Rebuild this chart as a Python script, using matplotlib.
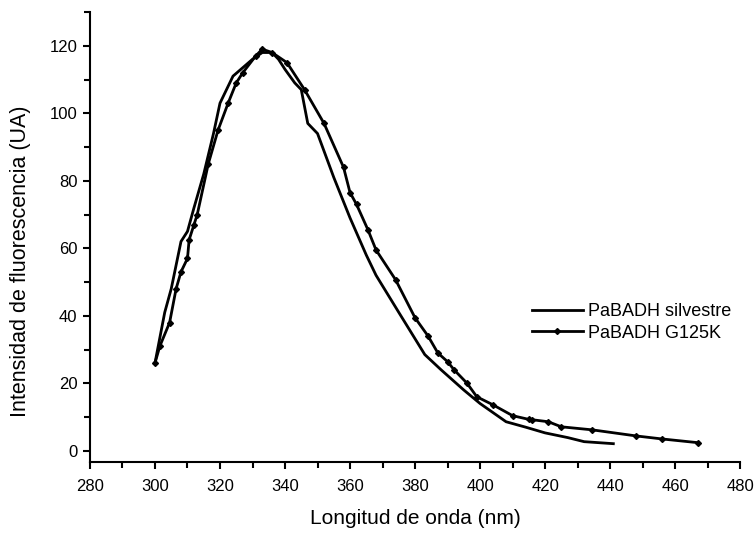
import matplotlib
matplotlib.use("Agg")
import matplotlib.pyplot as plt
from matplotlib.ticker import MultipleLocator

plt.rcParams['font.family'] = ['Liberation Sans', 'DejaVu Sans']

# PaBADH silvestre (línea continua)
x_silv = [300, 303, 305, 308, 310, 312, 315, 318, 320, 322, 324, 327, 330, 333,
          336, 338, 340, 343, 345, 347, 350, 355, 360, 365, 368, 375, 383, 388,
          395, 400, 408, 414, 420, 427, 432, 441]
y_silv = [26, 41, 48, 62, 65, 72, 82, 94, 103, 107, 111, 113.5, 116, 118,
          118, 116, 113, 109, 107, 97, 94, 81, 69, 58, 52, 41, 28.5, 24,
          18, 14, 8.6, 7, 5.3, 3.9, 2.7, 2.1]

# PaBADH G125K (línea con marcadores)
x_mut = [300, 301.5, 304.5, 306.5, 308, 310, 310.5, 312, 313, 316.4, 319.4, 322.5,
         325, 327, 331, 333, 336, 340.6, 346, 352, 358, 360, 362, 365.5, 368,
         374, 380, 384, 387, 390, 392, 396, 399, 404, 410, 415, 416, 421, 425,
         434.5, 448, 456, 467]
y_mut = [26, 31, 38, 48, 53, 57, 62.5, 67, 70, 85, 95, 103,
         109, 112, 117, 119, 118, 115, 107, 97, 84, 76.5, 73, 65.5, 59.5,
         50.7, 39.4, 34, 29, 26.4, 24, 20, 16, 13.6, 10.4, 9.3, 9.2, 8.6, 7.1,
         6.2, 4.4, 3.5, 2.4]

fig = plt.figure(figsize=(7.56, 5.34), dpi=100)
ax = fig.add_axes([0.119, 0.135, 0.860, 0.8425])

ax.plot(x_silv, y_silv, color='black', lw=2, label='PaBADH silvestre')
ax.plot(x_mut, y_mut, color='black', lw=2, marker='D', markersize=3,
        label='PaBADH G125K')

ax.set_xlim(280, 480)
ax.set_ylim(-3.3, 130)
ax.xaxis.set_major_locator(MultipleLocator(20))
ax.xaxis.set_minor_locator(MultipleLocator(10))
ax.yaxis.set_minor_locator(MultipleLocator(10))
ax.set_yticks([0, 20, 40, 60, 80, 100, 120])

for s in ['top', 'right']:
    ax.spines[s].set_visible(False)
for s in ['left', 'bottom']:
    ax.spines[s].set_linewidth(1.5)

ax.tick_params(which='major', direction='out', length=5, width=1.5,
               labelsize=12, colors='black')
ax.tick_params(axis='x', which='major', pad=7)
ax.tick_params(axis='y', which='major', pad=4)
ax.tick_params(which='minor', direction='out', length=4, width=1.5)

ax.set_xlabel('Longitud de onda (nm)', fontsize=15)
ax.set_ylabel('Intensidad de fluorescencia (UA)', fontsize=15.5)
ax.xaxis.set_label_coords(0.5, -0.104)
ax.yaxis.set_label_coords(-0.091, 0.447)

ax.legend(loc='center left', bbox_to_anchor=(0.68, 0.31), frameon=False,
          fontsize=13, handlelength=2.8, handletextpad=0.3, labelspacing=0.25,
          borderpad=0, borderaxespad=0)

fig.savefig('out.png', dpi=100)
